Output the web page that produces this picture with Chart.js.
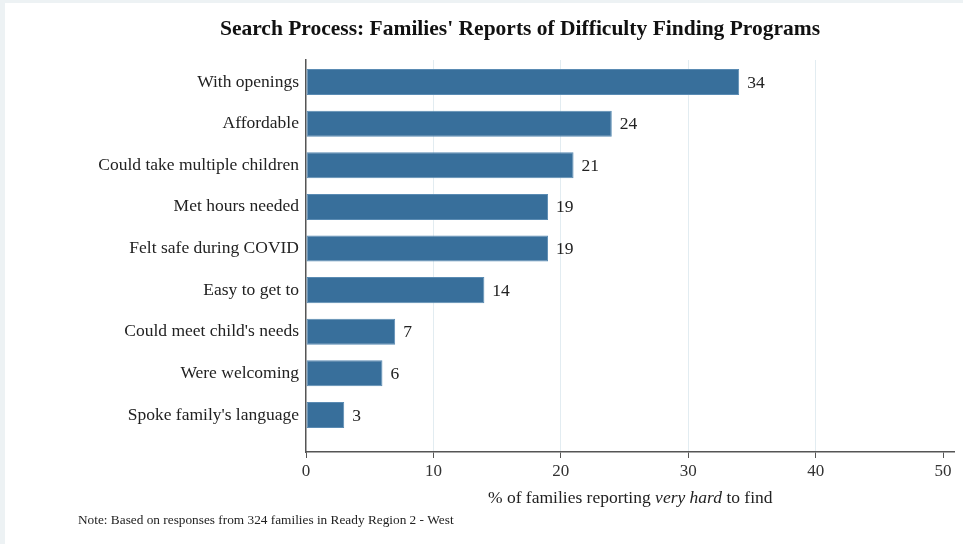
<!DOCTYPE html>
<html>
<head>
<meta charset="utf-8">
<script src="https://cdn.jsdelivr.net/npm/chart.js@4/dist/chart.umd.min.js"></script>
<style>
  html, body { margin: 0; padding: 0; background: #edf2f4; }
  #wrap { position: absolute; left: 5px; top: 3px; width: 958px; height: 541px; background: #ffffff; }
  canvas { display: block; }
</style>
</head>
<body>
<div id="wrap"><canvas id="c" width="958" height="541"></canvas></div>
<script>
const categories = [
  "With openings",
  "Affordable",
  "Could take multiple children",
  "Met hours needed",
  "Felt safe during COVID",
  "Easy to get to",
  "Could meet child's needs",
  "Were welcoming",
  "Spoke family's language"
];
const values = [34, 24, 21, 19, 19, 14, 7, 6, 3];
const xTicks = [0, 10, 20, 30, 40, 50];
const titleText = "Search Process: Families' Reports of Difficulty Finding Programs";
const axisTitleParts = [["% of families reporting ", false], ["very hard", true], [" to find", false]];
const noteText = "Note: Based on responses from 324 families in Ready Region 2 - West";

const SERIF = "'Liberation Serif', 'DejaVu Serif', serif";

const extras = {
  id: 'extras',
  afterDatasetsDraw(chart) {
    const ctx = chart.ctx;
    const meta = chart.getDatasetMeta(0);
    ctx.save();
    ctx.fillStyle = '#222';
    ctx.font = '17.5px ' + SERIF;
    ctx.textBaseline = 'middle';
    ctx.textAlign = 'left';
    meta.data.forEach((bar, i) => {
      ctx.fillText(String(values[i]), bar.x + 8, bar.y + 1);
    });
    ctx.restore();
  },
  afterDraw(chart) {
    const ctx = chart.ctx;
    const xs = chart.scales.x;
    ctx.save();
    ctx.fillStyle = '#111';
    ctx.font = 'bold 21.5px ' + SERIF;
    ctx.textAlign = 'center';
    ctx.textBaseline = 'middle';
    ctx.fillText(titleText, 515, 26);
    ctx.textAlign = 'left';
    ctx.fillStyle = '#222';
    let total = 0;
    axisTitleParts.forEach(([t, it]) => {
      ctx.font = (it ? 'italic ' : '') + '17.5px ' + SERIF;
      total += ctx.measureText(t).width;
    });
    let x = (xs.left + xs.right) / 2 - total / 2;
    const y = xs.bottom - 46;
    axisTitleParts.forEach(([t, it]) => {
      ctx.font = (it ? 'italic ' : '') + '17.5px ' + SERIF;
      ctx.fillText(t, x, y);
      x += ctx.measureText(t).width;
    });
    ctx.font = '13.3px ' + SERIF;
    ctx.fillStyle = '#222';
    ctx.fillText(noteText, 73, 518);
    ctx.restore();
  }
};

new Chart(document.getElementById('c'), {
  type: 'bar',
  data: {
    datasets: [{
      data: values.map((v, i) => ({ x: v, y: i })),
      backgroundColor: '#386f9b',
      borderColor: '#5a8bb3',
      borderWidth: 1,
      borderSkipped: false,
      barPercentage: 0.625,
      categoryPercentage: 1
    }]
  },
  options: {
    indexAxis: 'y',
    responsive: false,
    animation: false,
    devicePixelRatio: 1,
    layout: { padding: { top: 57, right: 8.5, left: 0, bottom: 0 } },
    plugins: { legend: { display: false }, tooltip: { enabled: false }, title: { display: false } },
    scales: {
      x: {
        type: 'linear',
        bounds: 'data',
        offset: false,
        min: 0,
        max: 50.9,
        afterBuildTicks: (s) => { s.ticks = xTicks.map(v => ({ value: v })); },
        afterFit: (s) => { s.height = 92; },
        grid: {
          offset: false,
          color: (c) => (c.tick && (c.tick.value === 0 || c.tick.value === 50)) ? 'rgba(0,0,0,0)' : '#e2ecf1',
          tickColor: '#555',
          tickLength: 6,
          lineWidth: 1
        },
        border: { display: true, color: '#555', width: 1.5 },
        ticks: {
          color: '#333',
          font: { family: SERIF, size: 17 },
          padding: 3,
          maxRotation: 0,
          autoSkip: false,
          callback: (v) => String(v)
        }
      },
      y: {
        type: 'linear',
        bounds: 'data',
        offset: false,
        reverse: true,
        min: -0.53,
        max: 8.89,
        afterBuildTicks: (s) => { s.ticks = categories.map((_, i) => ({ value: i })); },
        afterFit: (s) => { s.width = 301; },
        grid: { display: false, drawTicks: false, offset: false },
        border: { display: true, color: '#555', width: 1.5 },
        ticks: {
          color: '#222',
          font: { family: SERIF, size: 17.5 },
          padding: 7,
          autoSkip: false,
          callback: (v) => categories[v] !== undefined ? categories[v] : ''
        }
      }
    }
  },
  plugins: [extras]
});
</script>
</body>
</html>
